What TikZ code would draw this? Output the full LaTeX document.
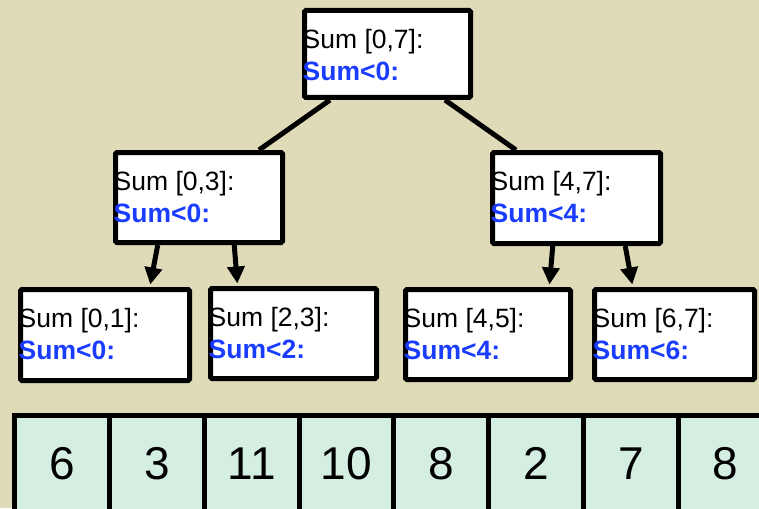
\documentclass[tikz,border=0pt]{standalone}
\usepackage{fontspec}
\setmainfont{Liberation Sans}
\usetikzlibrary{arrows.meta,calc}
\definecolor{bgtan}{RGB}{223,218,184}
\definecolor{cellfill}{RGB}{213,238,226}
\definecolor{sumblue}{RGB}{25,60,255}
\begin{document}
\begin{tikzpicture}[x=1pt,y=-1pt,
  sbox/.style 2 args={draw=black,fill=white,line width=5pt,rounded corners=1.5pt,inner sep=0pt,minimum width=#1,minimum height=#2},
  line1/.style={anchor=base west,inner sep=0pt,font=\fontsize{26.5}{30}\selectfont},
  line2/.style={anchor=base west,inner sep=0pt,text=sumblue,font=\fontsize{26.5}{30}\selectfont\bfseries},
  conn/.style={draw=black,line width=5pt},
  arr/.style={draw=black,line width=5pt,-{Triangle[width=17pt,length=17pt]},shorten >=2.5pt},
  cell/.style={draw=black,fill=cellfill,line width=5pt,inner sep=0pt,minimum width=94.8pt,minimum height=96pt,font=\fontsize{46}{50}\selectfont}
]
\fill[bgtan] (0,0) rectangle (759,508);
\useasboundingbox (0,0) rectangle (759,508);

% boxes
\node[sbox={166pt}{87pt}] (n07) at (387.5,54) {};
\node[sbox={167pt}{90pt}] (n03) at (199,197.5) {};
\node[sbox={168pt}{91pt}] (n47) at (576.5,198) {};
\node[sbox={169pt}{91pt}] (n01) at (105,335) {};
\node[sbox={166pt}{90pt}] (n23) at (293.5,333.5) {};
\node[sbox={165pt}{90pt}] (n45) at (488,334.5) {};
\node[sbox={160pt}{90pt}] (n67) at (674.5,334.5) {};

% texts
\foreach \b/\r/\s in {n07/{0,7}/0, n03/{0,3}/0, n47/{4,7}/4, n01/{0,1}/0, n23/{2,3}/2, n45/{4,5}/4, n67/{6,7}/6}{
  \node[line1] (\b-t1) at ($(\b.north west)+(0.5,40.5)$) {Sum [\r]:};
  \node[line2] (\b-t2) at ($(\b.north west)+(0.5,72.5)$) {Sum<\s:};
}

% connectors
\draw[conn] ($(n07.south west)+(28,0)$) -- ($(n03.north east)+(-26,0)$);
\draw[conn] ($(n07.south east)+(-28,0)$) -- ($(n47.north west)+(26,0)$);
\draw[arr] ($(n03.south west)+(44.75,0)$) -- ($(n01.north west)+(131.75,0)$);
\draw[arr] ($(n03.south east)+(-50.75,0)$) -- ($(n23.north west)+(29.5,0)$);
\draw[arr] ($(n47.south west)+(62.75,0)$) -- ($(n45.north east)+(-23.75,0)$);
\draw[arr] ($(n47.south east)+(-37.75,0)$) -- ($(n67.north west)+(40.75,0)$);

% array
\foreach \v [count=\i] in {6,3,11,10,8,2,7,8}{
  \node[cell] (c\i) at ({14.7+94.8*(\i-0.5)},463.5) {\v};
}
\end{tikzpicture}
\end{document}
